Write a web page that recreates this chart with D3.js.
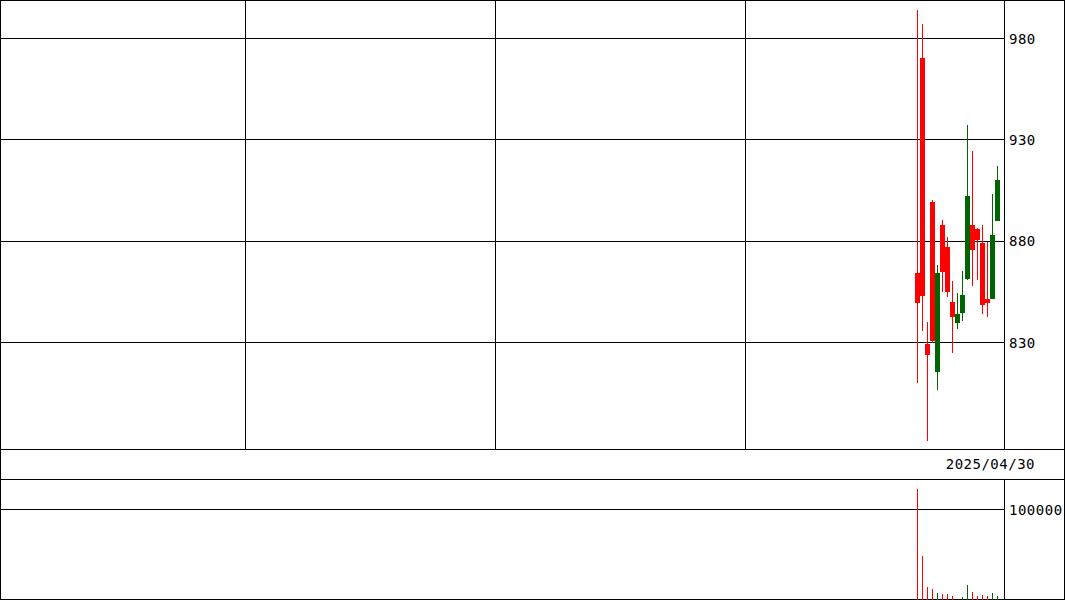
<!DOCTYPE html>
<html>
<head>
<meta charset="utf-8">
<script src="https://cdn.jsdelivr.net/npm/d3@7"></script>
<style>
  html, body { margin: 0; padding: 0; background: #fff; }
  svg { display: block; }
  text { font-family: "DejaVu Sans Mono", monospace; font-size: 14px; letter-spacing: 0.5px; fill: #000; }
</style>
</head>
<body>
<svg id="chart" width="1065" height="600"></svg>
<script>
// ---- data ----
const dates = ["2025/04/07","2025/04/08","2025/04/09","2025/04/10","2025/04/11","2025/04/14","2025/04/15","2025/04/16","2025/04/17","2025/04/18","2025/04/21","2025/04/22","2025/04/23","2025/04/24","2025/04/25","2025/04/28","2025/04/30"];
const opens  = [864.3, 970.3, 829.2, 899.4, 815.5, 887.9, 877.2, 850.0, 839.7, 844.6, 861.1, 887.9, 885.9, 878.9, 851.7, 851.4, 890.0];
const highs  = [994.0, 987.1, 840.2, 900.2, 868.1, 890.3, 882.1, 860.3, 854.5, 865.3, 937.2, 924.4, 886.4, 887.9, 879.6, 903.2, 917.0];
const lows   = [809.8, 835.7, 781.4, 829.8, 806.5, 854.9, 852.5, 824.9, 836.7, 840.7, 860.7, 857.8, 860.7, 844.3, 842.6, 851.4, 890.0];
const closes = [849.5, 853.0, 823.7, 830.8, 864.3, 864.8, 855.0, 842.6, 844.0, 853.3, 902.2, 875.5, 880.5, 848.4, 849.5, 882.9, 910.1];
const volumes = [122700, 48900, 14400, 12200, 8100, 7000, 7000, 4800, 500, 3600, 16900, 9200, 4800, 5900, 4800, 8100, 4800];
const priceTicks = [830, 880, 930, 980];
const volumeTicks = [100000];
const lastDateLabel = "2025/04/30";
const slotCount = 201;          // slots across the price panel
const firstSlot = 183;          // slot of the first candle
const monthGridSlots = [49, 99, 149];

// ---- layout ----
const W = 1065, H = 600;
const plotRight = 1005;
const mainTop = 0, mainBottom = 449;
const dateBottom = 479;
const volTop = 479, volBottom = 600;

const svg = d3.select("#chart");
svg.append("rect").attr("width", W).attr("height", H).attr("fill", "#fff");

const x = d3.scaleBand().domain(d3.range(slotCount)).range([0, plotRight]).padding(0);
const y = d3.scaleLinear().domain([777.45, 999.0]).range([mainBottom, mainTop]);
const yv = d3.scaleLinear().domain([0, 100000]).range([volBottom, 509.5]);

const crisp = v => Math.floor(v) + 0.5;

const candles = dates.map((d, i) => ({
  date: d, slot: firstSlot + i,
  o: opens[i], h: highs[i], l: lows[i], c: closes[i], v: volumes[i]
}));
const colorOf = d => d.c >= d.o ? "#006400" : "#ff0000";

const grid = svg.append("g").attr("stroke", "#000").attr("stroke-width", 1).attr("shape-rendering", "crispEdges");

// vertical month grid lines (price panel only)
grid.selectAll("line.vg").data(monthGridSlots).join("line")
  .attr("x1", s => crisp(x(s))).attr("x2", s => crisp(x(s)))
  .attr("y1", mainTop).attr("y2", mainBottom);

// price grid lines
grid.selectAll("line.pg").data(priceTicks).join("line")
  .attr("x1", 0).attr("x2", plotRight)
  .attr("y1", t => crisp(y(t))).attr("y2", t => crisp(y(t)));

// volume grid lines
grid.selectAll("line.vgl").data(volumeTicks).join("line")
  .attr("x1", 0).attr("x2", plotRight)
  .attr("y1", t => crisp(yv(t))).attr("y2", t => crisp(yv(t)));

// panel separators
[mainBottom, dateBottom].forEach(yy => {
  grid.append("line").attr("x1", 0).attr("x2", W).attr("y1", yy + 0.5).attr("y2", yy + 0.5);
});
// right axis lines
grid.append("line").attr("x1", plotRight - 0.5).attr("x2", plotRight - 0.5).attr("y1", mainTop).attr("y2", mainBottom);
grid.append("line").attr("x1", plotRight - 0.5).attr("x2", plotRight - 0.5).attr("y1", volTop).attr("y2", volBottom);
// outer frame
grid.append("rect").attr("x", 0.5).attr("y", 0.5).attr("width", W - 1).attr("height", H - 1.5).attr("fill", "none");

// candles
const cg = svg.append("g").attr("shape-rendering", "crispEdges");
cg.selectAll("line.wick").data(candles).join("line")
  .attr("x1", d => x(d.slot) + 2.5).attr("x2", d => x(d.slot) + 2.5)
  .attr("y1", d => y(d.h)).attr("y2", d => y(d.l))
  .attr("stroke", colorOf).attr("stroke-width", 1);
cg.selectAll("rect.body").data(candles).join("rect")
  .attr("x", d => x(d.slot)).attr("width", x.bandwidth())
  .attr("y", d => y(Math.max(d.o, d.c)))
  .attr("height", d => Math.max(1, Math.abs(y(d.o) - y(d.c))))
  .attr("fill", colorOf);

// volume bars
cg.selectAll("line.vol").data(candles).join("line")
  .attr("x1", d => x(d.slot) + 2.5).attr("x2", d => x(d.slot) + 2.5)
  .attr("y1", yv(0)).attr("y2", d => yv(d.v))
  .attr("stroke", colorOf).attr("stroke-width", 1);

// labels
const tg = svg.append("g");
tg.selectAll("text.pt").data(priceTicks).join("text")
  .attr("x", 1009).attr("y", t => y(t) + 5)
  .text(t => t);
tg.selectAll("text.vt").data(volumeTicks).join("text")
  .attr("x", 1009).attr("y", t => yv(t) + 5)
  .text(t => t);
tg.append("text").attr("x", 1035).attr("y", 469).attr("text-anchor", "end").text(lastDateLabel);
</script>
</body>
</html>
